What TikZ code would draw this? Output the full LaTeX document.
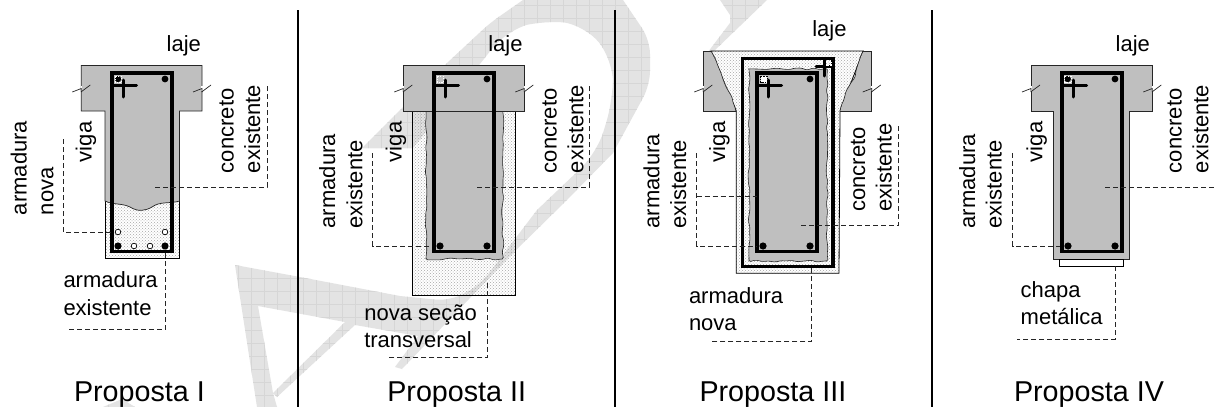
\documentclass[tikz,border=0pt]{standalone}
\usepackage{fontspec}
\setmainfont{Liberation Sans}
\usetikzlibrary{patterns,decorations.pathmorphing}
\definecolor{conc}{HTML}{BFBFBF}
\definecolor{wm}{HTML}{E3E3E3}
\definecolor{wmgrid}{HTML}{D6D6D6}
\definecolor{edgec}{HTML}{262626}
\definecolor{dotc}{HTML}{A6A6A6}
\tikzset{
  lbl/.style={inner sep=0pt,outer sep=0pt,anchor=base west,font=\fontsize{22}{24}\selectfont,text=black},
  vlbl/.style={lbl,rotate=90},
  title/.style={inner sep=0pt,outer sep=0pt,anchor=base west,font=\fontsize{28.7}{30}\selectfont,text=black},
  leader/.style={line width=0.8pt,draw=black!85,dash pattern=on 5pt off 3pt},
  divider/.style={line width=2pt,draw=black},
  concfill/.style={fill=conc,draw=edgec,line width=0.7pt},
  newconc/.style={pattern=crosshatch dots,pattern color=dotc},
  sect/.style={draw=black,line width=0.8pt},
  wavy/.style={decorate,decoration={random steps,segment length=6pt,amplitude=1.1pt},rounded corners=1.5pt},
  stir/.style={draw=black,line width=3.5pt,line join=miter},
  hook/.style={draw=black,line width=3pt,line cap=round},
  bar/.style={fill=black},
  openbar/.style={fill=white,draw=black,line width=0.7pt},
  sq/.style={draw=white,line width=0.7pt,dash pattern=on 1.5pt off 1.2pt}
}
% break mark centred on slab edge x
\newcommand{\brk}[1]{%
  \draw[white,line width=1.2pt] (#1,86) -- (#1,91);
  \draw[edgec,line width=0.7pt] (#1-9,92) -- (#1,88.5) -- (#1,92);
  \draw[edgec,line width=0.7pt] (#1,92) -- (#1+0.3,91.5) -- (#1+9,85);}
% cage with offset dx
\newcommand{\cage}[1]{%
  \begin{scope}[xshift=#1pt]
    \draw[stir] (112.2,73.2) rectangle (171.8,251.6);
    \fill[bar] (165,79) circle (3.4);
    \fill[bar] (118,246) circle (3.6);
    \fill[bar] (165,246) circle (3.6);
    \draw[hook] (113,85) -- (136.5,85);
    \draw[hook] (123.7,80) -- (123.7,97);
  \end{scope}}
\begin{document}
\begin{tikzpicture}[x=1pt,y=-1pt]
\useasboundingbox (0,0) rectangle (1216,407);
\fill[white] (0,0) rectangle (1216,407);
% ---- watermark
\begin{scope}
  \clip
    (235,265) -- (258,306) -- (273,393) -- (277,407) -- (257,407) -- cycle
    (345,322) -- (355,325) -- (277,397) -- (273,393) -- cycle
    (103,407) -- (122,399) -- (135,407) -- cycle
    (720,0) -- (730,15) -- (730,23) -- (708,52) -- (713,52) -- (767,0) -- cycle
    (235,265) -- (300,277) -- (400,296)
      [rounded corners=14pt] -- (450,301) -- (480,285) [sharp corners] -- (537,210)
      [rounded corners=22pt] -- (597,153) -- (613,100) -- (613,60) -- (585,25) -- (545,20) -- (507,30)
      [sharp corners] -- (413,148) -- (362,148) -- (447,63)
      [rounded corners=10pt] -- (490,23) [sharp corners] -- (523,0) -- (623,0)
      [rounded corners=14pt] -- (650,40) -- (650,85) [sharp corners] -- (613,153) -- (567,200) -- (513,253) -- (402,369) -- (395,367) -- (418,336) -- (355,325) -- (345,322) -- (258,306) -- cycle;
  \fill[wm] (0,0) rectangle (1216,407);
  \foreach \gx in {0,13,...,780} \draw[wmgrid,line width=0.6pt] (\gx+4,0) -- (\gx+4,407);
  \foreach \gy in {0,13,...,407} \draw[wmgrid,line width=0.6pt] (0,\gy+5) -- (800,\gy+5);
\end{scope}
\pgfmathsetseed{7}
% ---- dividers
\draw[divider] (297.5,10) -- (297.5,407);
\draw[divider] (615,10) -- (615,407);
\draw[divider] (932,10) -- (932,407);
% ---- Panel I
\draw[sect,newconc] (105,190) -- (105,258.5) -- (179.5,258.5) -- (179.5,190);
\fill[conc] (81.3,65.5) -- (202,65.5) -- (202,111) -- (179.5,111) -- (179.5,201) .. controls (170,204) and (160,201) .. (152,207) .. controls (145,211) and (138,212) .. (130,207) .. controls (122,203) and (113,205) .. (105,201) -- (105,111) -- (81.3,111) -- cycle;
\draw[edgec,line width=0.7pt] (81.3,111) -- (81.3,65.5) -- (202,65.5) -- (202,111) -- (179.5,111) -- (179.5,201) .. controls (170,204) and (160,201) .. (152,207) .. controls (145,211) and (138,212) .. (130,207) .. controls (122,203) and (113,205) .. (105,201) -- (105,111) -- cycle;
\brk{81.3}\brk{202}
\fill[black] (118,79) circle (3.2);
\draw[sq] (115,76) rectangle (121.5,82.5);
\cage{0}
\draw[openbar] (118,232) circle (2.8);
\draw[openbar] (165,232) circle (2.8);
\draw[openbar] (134,246) circle (2.8);
\draw[openbar] (150,246) circle (2.8);
\draw[leader] (155,187) -- (267,187) -- (267,84);
\draw[leader] (63,139) -- (63,232) -- (112,232);
\draw[leader] (165.7,253) -- (165.7,329) -- (67,329);
\node[lbl] (lajeA) at (166.7,51.7) {laje};
\node[vlbl] (armA) at (26.7,215) {armadura};
\node[vlbl] (novaA) at (53.3,215) {nova};
\node[vlbl] (vigaA) at (91.7,162) {viga};
\node[vlbl] (concA) at (233.5,173) {concreto};
\node[vlbl] (exiA) at (260,173) {existente};
\node[lbl] (armHA) at (63.5,287) {armadura};
\node[lbl] (exiHA) at (63.5,315) {existente};
\node[title] (titleA) at (74,401.7) {Proposta I};
% ---- Panel II
\draw[sect,newconc] (412.3,111) -- (412.3,295.3) -- (515,295.3) -- (515,111);
\fill[conc] (426,111) rectangle (502.7,259);
\draw[edgec,line width=0.6pt,wavy,fill=conc] (426,111) -- (426,259) -- (502.7,259) -- (502.7,111);
\draw[concfill] (403.3,111) -- (403.3,65.5) -- (524.3,65.5) -- (524.3,111) -- cycle;
\brk{403.3}\brk{524.3}
\cage{322}
\draw[sq] (437,76) rectangle (443.5,82.5);
\draw[leader] (477,187) -- (589.3,187) -- (589.3,84);
\draw[leader] (372.7,153.3) -- (372.7,246) -- (432,246);
\draw[leader] (487.7,283) -- (487.7,357.7) -- (388.3,357.7);
\node[lbl] (lajeB) at (488.3,51.7) {laje};
\node[vlbl] (armB) at (335,228.3) {armadura};
\node[vlbl] (exiB) at (362.3,228.3) {existente};
\node[vlbl] (vigaB) at (401.7,162) {viga};
\node[vlbl] (concB) at (556.7,173) {concreto};
\node[vlbl] (exicB) at (583.3,173) {existente};
\node[lbl] (novaB) at (364.3,320.7) {nova seção};
\node[lbl] (transB) at (364.3,347.7) {transversal};
\node[title] (titleB) at (387.3,401.7) {Proposta II};
% ---- Panel III
\draw[sect,newconc] (711,51) -- (863.3,51) -- (840,111) -- (839,273.3) -- (736.3,273.3) -- (736.3,111) -- cycle;
\fill[conc] (711,51) -- (703.3,51) -- (703.3,111) -- (735.7,111) -- (731.7,96.7) -- (723.3,80) -- (718.3,66.7) -- cycle;
\draw[edgec,line width=0.6pt,wavy,decoration={segment length=5pt,amplitude=0.8pt}] (711,51) -- (718.3,66.7) -- (723.3,80) -- (731.7,96.7) -- (735.7,111);
\draw[edgec,line width=0.7pt] (711,51) -- (703.3,51) -- (703.3,111) -- (735.7,111);
\fill[conc] (863.3,51) -- (871.7,51) -- (871.7,111) -- (840,111) -- (846.7,90) -- (855,76.7) -- (858.3,63.3) -- cycle;
\draw[edgec,line width=0.6pt,wavy,decoration={segment length=5pt,amplitude=0.8pt}] (863.3,51) -- (858.3,63.3) -- (855,76.7) -- (846.7,90) -- (840,111);
\draw[edgec,line width=0.7pt] (863.3,51) -- (871.7,51) -- (871.7,111) -- (840,111);
\brk{703.3}\brk{871.7}
\draw[edgec,line width=0.6pt,wavy,fill=conc] (749,69) -- (749,261) -- (827.3,261) -- (827.3,69) -- cycle;
\draw[stir] (742.6,58.3) rectangle (832.8,266.7);
\cage{645}
\draw[fill=white,draw=black,line width=0.6pt,dash pattern=on 1.5pt off 1.2pt] (760.5,76) rectangle (767,82.5);
\draw[hook] (816,66) -- (832,66);
\draw[hook] (824.3,60) -- (824.3,76);
\draw[sq] (826,61) rectangle (831,65);
\draw[leader] (801,225.3) -- (898.7,225.3) -- (898.7,124);
\draw[leader] (696.7,153.3) -- (696.7,246) -- (757,246);
\draw[leader] (696.7,196) -- (756.7,196);
\draw[leader] (811.7,268) -- (811.7,341.7) -- (712.3,341.7);
\node[lbl] (lajeC) at (812.3,36.7) {laje};
\node[vlbl] (armC) at (659.3,228.3) {armadura};
\node[vlbl] (exiC) at (686,228.3) {existente};
\node[vlbl] (vigaC) at (725,162) {viga};
\node[vlbl] (concC) at (865,211.7) {concreto};
\node[vlbl] (exicC) at (891.7,211.7) {existente};
\node[lbl] (armHC) at (689,303.3) {armadura};
\node[lbl] (novaC) at (689,330.7) {nova};
\node[title] (titleC) at (699.5,401.7) {Proposta III};
% ---- Panel IV
\draw[concfill] (1031,65.5) -- (1152.3,65.5) -- (1152.3,111) -- (1129.3,111) -- (1129.3,259.3) -- (1053.3,259.3) -- (1053.3,111) -- (1031,111) -- cycle;
\brk{1031}\brk{1152.3}
\draw[sect,fill=white] (1059.3,259.3) rectangle (1123.3,266);
\fill[black] (1067.7,79) circle (3.2);
\draw[sq] (1064.7,76) rectangle (1071.2,82.5);
\cage{950}
\draw[leader] (1105,187) -- (1216,187);
\draw[leader] (1012.7,153.3) -- (1012.7,246) -- (1060,246);
\draw[leader] (1115,266) -- (1115,339) -- (1016.7,339);
\node[lbl] (lajeD) at (1115.7,51.7) {laje};
\node[vlbl] (armD) at (975,228.3) {armadura};
\node[vlbl] (exiD) at (1001.7,228.3) {existente};
\node[vlbl] (vigaD) at (1042.3,162) {viga};
\node[vlbl] (concD) at (1181.7,173) {concreto};
\node[vlbl] (exicD) at (1208.3,173) {existente};
\node[lbl] (chapaD) at (1020.7,297.7) {chapa};
\node[lbl] (metD) at (1020.7,324) {metálica};
\node[title] (titleD) at (1014,401.7) {Proposta IV};
\end{tikzpicture}
\end{document}
